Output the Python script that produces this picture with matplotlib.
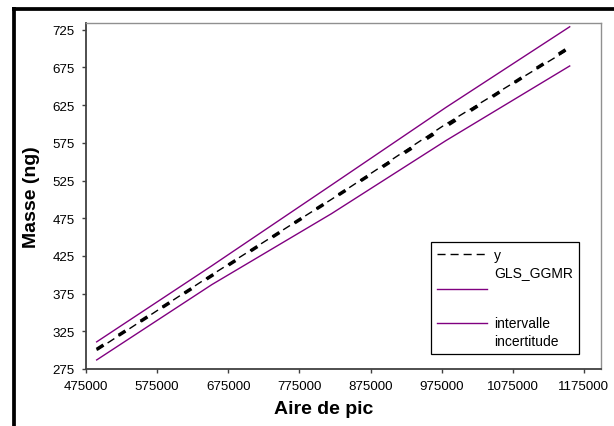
import matplotlib
matplotlib.use("Agg")
import matplotlib.pyplot as plt
from matplotlib.lines import Line2D

plt.rcParams['font.family'] = ['Liberation Sans', 'DejaVu Sans']
plt.rcParams['lines.scale_dashes'] = False

# peak area (x) and mass values
aire = [490000, 652000, 820000, 981000, 1155000]
masse_y = [300, 400, 500, 600, 700]
masse_gls = [301, 399, 500, 597, 702]
borne_sup = [311, 412, 519, 622, 729]
borne_inf = [287, 387, 481, 578, 677]

xticks = [475000, 575000, 675000, 775000, 875000, 975000, 1075000, 1175000]
yticks = [275, 325, 375, 425, 475, 525, 575, 625, 675, 725]

purple = '#800080'

fig = plt.figure(figsize=(6.14, 4.27), dpi=100)
ax = fig.add_axes([86/614, 1-370/427, (601-86)/614, (370-24)/427])

ax.plot(aire, borne_sup, color=purple, lw=1.0)
ax.plot(aire, borne_inf, color=purple, lw=1.0)
ax.plot(aire, masse_y, color='black', lw=1.0, dashes=(5.8, 3.6))
ax.plot(aire, masse_gls, color='black', lw=2.5, dashes=(5.8, 13), dash_capstyle='butt')

ax.set_xlim(475000, 1199000)
ax.set_ylim(275, 734)
ax.set_xticks(xticks)
ax.set_xticklabels([str(v) for v in xticks])
ax.set_yticks(yticks)
ax.tick_params(axis='both', direction='out', length=3, width=1, color='#404040',
               labelsize=9.6, pad=5)

for s in ['left', 'bottom']:
    ax.spines[s].set_color('#404040')
    ax.spines[s].set_linewidth(1.3)
for s in ['top', 'right']:
    ax.spines[s].set_color('#909090')
    ax.spines[s].set_linewidth(1.0)

ax.set_xlabel('Aire de pic', fontsize=14, fontweight='bold')
ax.set_ylabel('Masse (ng)', fontsize=14, fontweight='bold')
ax.xaxis.set_label_coords(0.462, -0.091)
ax.yaxis.set_label_coords(-0.089, 0.5)

handles = [
    Line2D([], [], color='black', lw=1.0, dashes=(5.8, 3.6)),
    Line2D([], [], color='none'),
    Line2D([], [], color=purple, lw=1.0),
    Line2D([], [], color='none'),
    Line2D([], [], color=purple, lw=1.0),
    Line2D([], [], color='none'),
]
labels = ['y', 'GLS_GGMR', ' ', ' ', 'intervalle', 'incertitude']
leg = ax.legend(handles, labels, loc='upper left', bbox_to_anchor=(0.67, 0.367),
                fontsize=10, handlelength=3.6, handletextpad=0.5, labelspacing=0.22,
                borderpad=0.45, borderaxespad=0, fancybox=False, frameon=True,
                edgecolor='black', framealpha=1)
leg.get_frame().set_linewidth(0.9)

# outer black border of the chart
fig.add_artist(Line2D([12/614, 1], [1-10.2/427, 1-10.2/427], color='black', lw=2.7,
                      transform=fig.transFigure, solid_capstyle='butt'))
fig.add_artist(Line2D([14/614, 14/614], [0, 1-8.3/427], color='black', lw=2.7,
                      transform=fig.transFigure, solid_capstyle='butt'))

fig.savefig('out.png', dpi=100)
